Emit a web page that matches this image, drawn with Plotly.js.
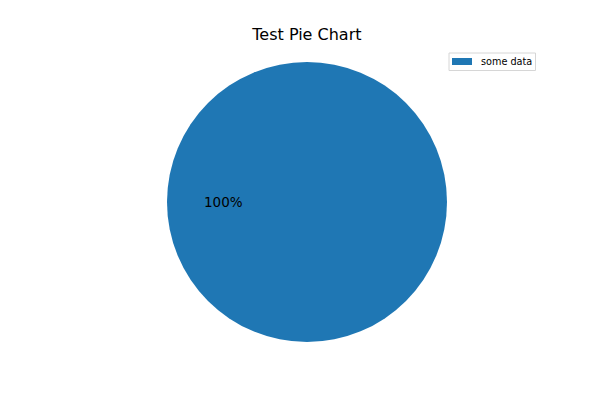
<!DOCTYPE html>
<html>
<head>
<meta charset="utf-8">
<script src="https://cdn.plot.ly/plotly-3.0.1.min.js"></script>
<style>html,body{margin:0;padding:0;background:#fff;}#chart{width:600px;height:400px;}</style>
</head>
<body>
<div id="chart"></div>
<script>
var labels = ["some data"];
var values = [1];
var colors = ["#1f77b4"];
var titleText = "Test Pie Chart";

var W = 600, H = 400;
var domX = [167/W, 447/W];
var domY = [58/H, 338/H];
var cx = (domX[0] + domX[1]) / 2;
var cy = (domY[0] + domY[1]) / 2;
var rPx = (domX[1] - domX[0]) * W / 2;

function px2x(p){ return p / W; }
function py2y(p){ return 1 - p / H; }

var total = values.reduce(function(a, b){ return a + b; }, 0);
var annotations = [];
var shapes = [];
var start = 0;
values.forEach(function(v){
  var frac = v / total;
  var mid = (start + frac / 2) * 2 * Math.PI;
  var dx = 0.6 * rPx * Math.cos(mid);
  var dy = 0.6 * rPx * Math.sin(mid);
  annotations.push({
    x: cx + dx / W, y: cy + dy / H, xref: "paper", yref: "paper",
    text: Math.round(frac * 100) + "%", showarrow: false,
    font: {family: "DejaVu Sans", size: 13.5, color: "#000"}
  });
  start += frac;
});

// legend box (matplotlib style)
var legL = 449, legT = 53, legR = 535.5, rowH = 17;
shapes.push({type: "rect", xref: "paper", yref: "paper",
  x0: px2x(legL), x1: px2x(legR), y0: py2y(legT), y1: py2y(legT + rowH * labels.length + 0.5),
  line: {color: "#d6d6d6", width: 1}, fillcolor: "rgba(255,255,255,0.8)", layer: "above"});
labels.forEach(function(lab, i){
  var top = legT + 5 + i * rowH;
  shapes.push({type: "rect", xref: "paper", yref: "paper",
    x0: px2x(legL + 3), x1: px2x(legL + 23), y0: py2y(top), y1: py2y(top + 7),
    line: {width: 0}, fillcolor: colors[i % colors.length], layer: "above"});
  annotations.push({x: px2x(legL + 30), y: py2y(top + 3.5), xref: "paper", yref: "paper",
    xanchor: "left", yanchor: "middle", text: lab, showarrow: false,
    font: {family: "DejaVu Sans", size: 9.7, color: "#000"}});
});

var data = [{
  type: "pie",
  labels: labels,
  values: values,
  marker: {colors: colors, line: {width: 0}},
  textinfo: "none",
  hoverinfo: "none",
  sort: false,
  direction: "counterclockwise",
  rotation: 90,
  domain: {x: domX, y: domY},
  showlegend: false
}];

var layout = {
  width: W, height: H,
  margin: {l: 0, r: 0, t: 0, b: 0},
  paper_bgcolor: "#fff", plot_bgcolor: "#fff",
  title: {text: titleText, x: 0.5115, xanchor: "center", y: 1 - 34/H, yanchor: "middle",
          font: {family: "DejaVu Sans", size: 16, color: "#000"}},
  showlegend: false,
  shapes: shapes,
  annotations: annotations
};

Plotly.newPlot("chart", data, layout, {staticPlot: true, displayModeBar: false});
</script>
</body>
</html>
